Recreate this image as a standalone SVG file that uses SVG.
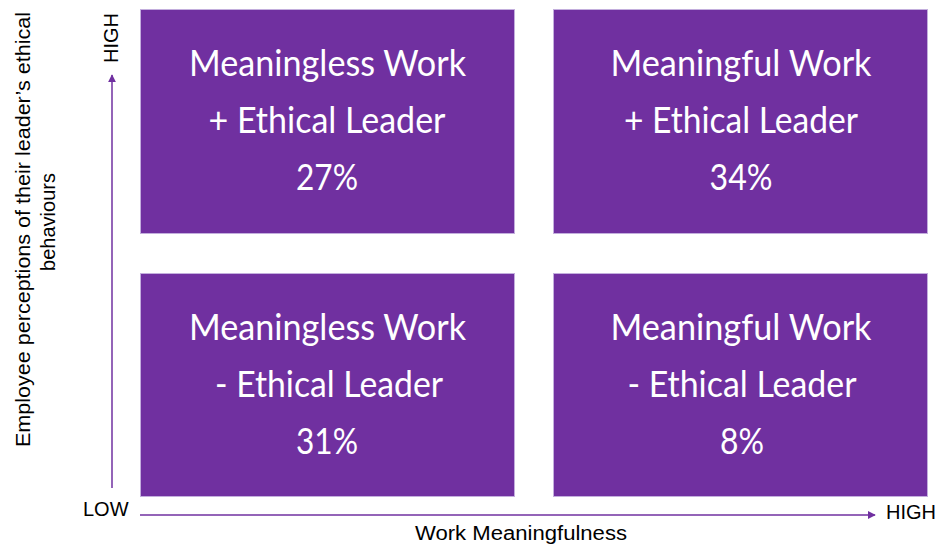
<svg xmlns="http://www.w3.org/2000/svg" width="941" height="545" viewBox="0 0 941 545">
<style>
.box{fill:#7030A0;stroke:#C3AEDD;stroke-width:1}
.bt{font-family:Lato,"Open Sans","Noto Sans",sans-serif;font-size:36px;fill:#FFFFFF;text-anchor:middle}
.ax{font-family:"Liberation Sans",Arial,sans-serif;font-size:20px;fill:#000000}
.axl{stroke:#7030A0;stroke-width:1.5;fill:none}
</style>
<defs>
<marker id="ah" viewBox="0 0 10 10" refX="9" refY="5" markerWidth="8" markerHeight="8" markerUnits="userSpaceOnUse" orient="auto">
<path d="M0,0 L10,5 L0,10 z" fill="#7030A0"/>
</marker>
</defs>
<rect width="941" height="545" fill="#FFFFFF"/>
<g id="q-top-left">
<rect class="box" x="140.5" y="9.5" width="374" height="224"/>
<text class="bt" x="327.5" y="76" textLength="277" lengthAdjust="spacingAndGlyphs">Meaningless Work</text>
<text class="bt" x="327" y="133" textLength="237" lengthAdjust="spacingAndGlyphs">+ Ethical Leader</text>
<text class="bt" x="327" y="190" textLength="62" lengthAdjust="spacingAndGlyphs">27%</text>
</g>
<g id="q-top-right">
<rect class="box" x="553.5" y="9.5" width="374" height="224"/>
<text class="bt" x="741" y="76" textLength="261" lengthAdjust="spacingAndGlyphs">Meaningful Work</text>
<text class="bt" x="741" y="133" textLength="234" lengthAdjust="spacingAndGlyphs">+ Ethical Leader</text>
<text class="bt" x="741" y="190" textLength="63" lengthAdjust="spacingAndGlyphs">34%</text>
</g>
<g id="q-bottom-left">
<rect class="box" x="140.5" y="273.5" width="374" height="223"/>
<text class="bt" x="327.5" y="340" textLength="277" lengthAdjust="spacingAndGlyphs">Meaningless Work</text>
<text class="bt" x="329" y="397" textLength="228" lengthAdjust="spacingAndGlyphs">- Ethical Leader</text>
<text class="bt" x="327" y="454" textLength="62" lengthAdjust="spacingAndGlyphs">31%</text>
</g>
<g id="q-bottom-right">
<rect class="box" x="553.5" y="273.5" width="374" height="223"/>
<text class="bt" x="741" y="340" textLength="261" lengthAdjust="spacingAndGlyphs">Meaningful Work</text>
<text class="bt" x="742" y="397" textLength="229" lengthAdjust="spacingAndGlyphs">- Ethical Leader</text>
<text class="bt" x="742" y="454" textLength="44" lengthAdjust="spacingAndGlyphs">8%</text>
</g>
<g id="connectors">
<line class="axl" x1="112" y1="488" x2="112" y2="75" marker-end="url(#ah)"/>
<line class="axl" x1="140" y1="515" x2="875" y2="515" marker-end="url(#ah)"/>
</g>
<g id="axis-labels">
<text class="ax" x="83" y="516">LOW</text>
<text class="ax" x="886" y="519">HIGH</text>
<text class="ax" x="118" y="38" text-anchor="middle" transform="rotate(-90 118 38)">HIGH</text>
<text class="ax" x="521" y="540" text-anchor="middle" textLength="212" lengthAdjust="spacingAndGlyphs">Work Meaningfulness</text>
<text class="ax" x="30" y="229.5" text-anchor="middle" transform="rotate(-90 30 229.5)" textLength="435" lengthAdjust="spacingAndGlyphs">Employee perceptions of their leader’s ethical</text>
<text class="ax" x="55" y="222" text-anchor="middle" transform="rotate(-90 55 222)">behaviours</text>
</g>
</svg>
